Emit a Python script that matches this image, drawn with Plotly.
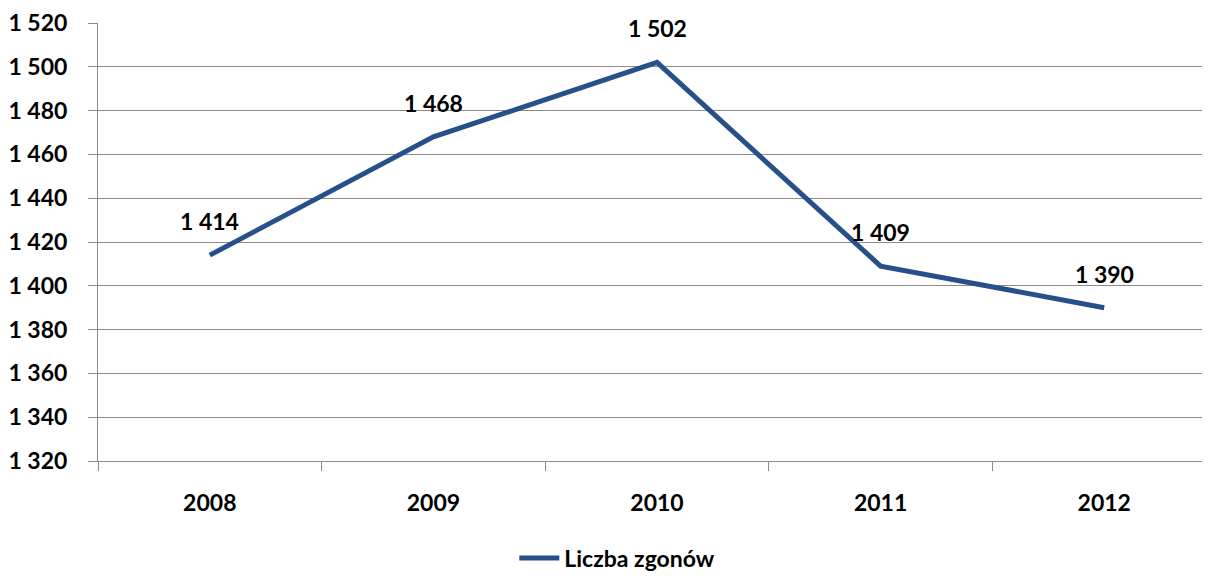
import plotly.graph_objects as go

years = ["2008", "2009", "2010", "2011", "2012"]
deaths = [1414, 1468, 1502, 1409, 1390]
label_text = ["1 414", "1 468", "1 502", "1 409", "1 390"]
series_name = "Liczba zgonów"
y_ticks = list(range(1320, 1521, 20))
y_tick_text = [f"{v // 1000} {v % 1000:03d}" for v in y_ticks]

LINE = "#27508A"
GRID = "#8C8C8C"
FONT = "Lato"

fig = go.Figure()
fig.add_trace(go.Scatter(
    x=years, y=deaths, mode="lines", name=f"<b>{series_name}</b>",
    line=dict(color=LINE, width=5),
))

for i, (v, t) in enumerate(zip(deaths, label_text)):
    fig.add_annotation(x=i, y=v, xref="x", yref="y", text=f"<b>{t}</b>", showarrow=False,
                       yshift=34, font=dict(family=FONT, size=23, color="#000000"))

fig.update_layout(
    width=1202, height=566,
    margin=dict(l=90, r=0, t=15, b=113, autoexpand=False),
    paper_bgcolor="white", plot_bgcolor="white",
    showlegend=True,
    legend=dict(orientation="h", x=0.467, xanchor="center",
                yref="container", y=0.028, yanchor="middle",
                font=dict(family=FONT, size=23, color="#000000"),
                itemwidth=40, bgcolor="rgba(0,0,0,0)"),
    font=dict(family=FONT, color="#000000"),
)
fig.update_xaxes(
    type="category", range=[-0.5, 4.473],
    tickson="boundaries", ticks="outside", ticklen=9, tickcolor=GRID,
    showgrid=False, showline=True, linecolor=GRID, linewidth=1,
    tickfont=dict(family=FONT, size=23, color="#000000"),
    ticklabelstandoff=21,
    tickprefix="<b>", ticksuffix="</b>",
)
fig.update_yaxes(
    range=[1320, 1520], tickvals=y_ticks,
    ticktext=[f"<b>{t}</b>" for t in y_tick_text],
    ticks="outside", ticklen=9, tickcolor=GRID,
    showgrid=True, gridcolor=GRID, gridwidth=1,
    showline=True, linecolor=GRID, linewidth=1,
    zeroline=False, ticklabelstandoff=16,
    tickfont=dict(family=FONT, size=23, color="#000000"),
)

fig.write_html("out.html")
